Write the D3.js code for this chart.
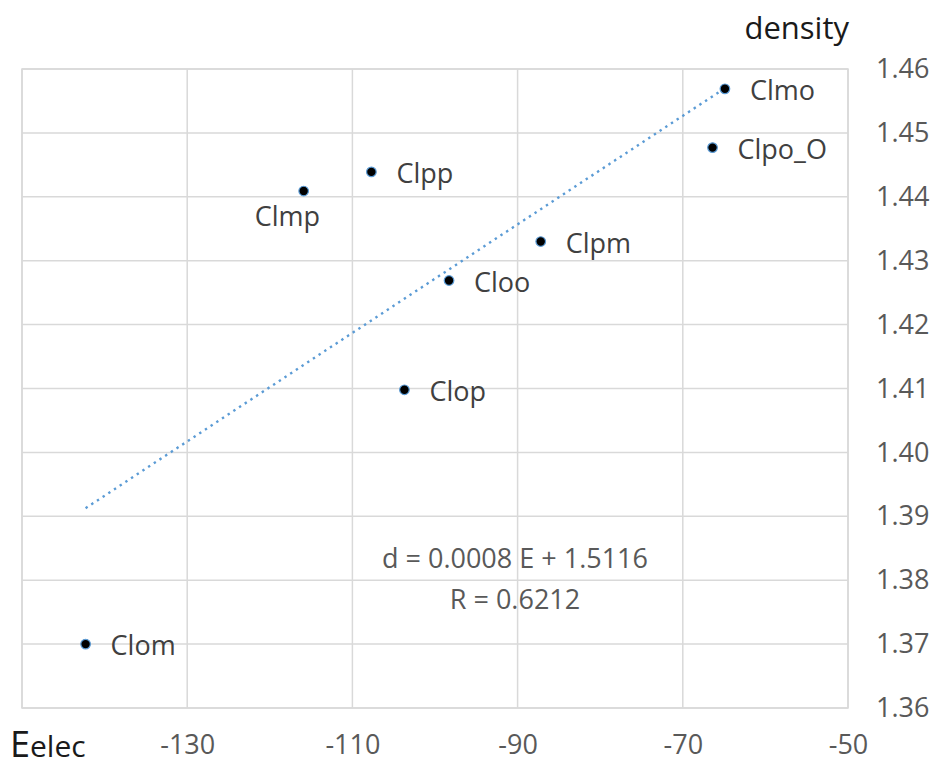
<!DOCTYPE html>
<html><head><meta charset="utf-8">
<script src="https://cdn.jsdelivr.net/npm/d3@7"></script>
<style>body{margin:0;background:#fff}svg{display:block;font-family:"Open Sans",Lato,sans-serif}</style>
</head><body><svg id="c" width="938" height="767"></svg>
<script>
const names = ["Clmo","Clpo_O","Clpp","Clmp","Clpm","Cloo","Clop","Clom"];
const energy = [-64.9,-66.4,-107.7,-115.9,-87.2,-98.3,-103.7,-142.3];
const density = [1.4569,1.4477,1.4439,1.4409,1.433,1.4269,1.4098,1.37];
const xTicks = [-130,-110,-90,-70,-50];
const yTicks = [1.36,1.37,1.38,1.39,1.40,1.41,1.42,1.43,1.44,1.45,1.46];
const equationText = "d = 0.0008 E + 1.5116";
const rText = "R = 0.6212";

const svg = d3.select("#c");
const L=22,R=848,T=69,B=708;
const FS=27;
const x = d3.scaleLinear().domain([-150,-50]).range([L,R]);
const y = d3.scaleLinear().domain([1.36,1.46]).range([B,T]);

svg.append("g").selectAll("line").data(d3.range(-150,-49,20)).join("line")
  .attr("x1",d=>x(d)).attr("x2",d=>x(d)).attr("y1",T).attr("y2",B)
  .attr("stroke","#d9d9d9").attr("stroke-width",1.5);
svg.append("g").selectAll("line").data(yTicks).join("line")
  .attr("y1",d=>y(d)).attr("y2",d=>y(d)).attr("x1",L).attr("x2",R)
  .attr("stroke","#d9d9d9").attr("stroke-width",1.5);
svg.append("rect").attr("x",L).attr("y",T).attr("width",R-L).attr("height",B-T)
  .attr("fill","none").attr("stroke","#d9d9d9").attr("stroke-width",1.5);

const xAxis = d3.axisBottom(x).tickValues(xTicks).tickSize(0).tickFormat(d=>String(d));
const gx = svg.append("g").attr("transform",`translate(0,${B+24})`).call(xAxis);
gx.select(".domain").remove();
gx.selectAll("text").attr("font-size",FS).attr("fill","#595959").attr("font-family","Open Sans");

const yAxis = d3.axisRight(y).tickValues(yTicks).tickSize(0).tickFormat(d3.format(".2f"));
const gy = svg.append("g").attr("transform",`translate(${R+20},0)`).call(yAxis);
gy.select(".domain").remove();
gy.selectAll("text").attr("font-size",FS).attr("fill","#595959").attr("font-family","Open Sans").attr("x",8);

const n = energy.length;
const mx = d3.mean(energy), my = d3.mean(density);
let sxy=0,sxx=0;
for(let i=0;i<n;i++){sxy+=(energy[i]-mx)*(density[i]-my);sxx+=(energy[i]-mx)**2;}
const slope=sxy/sxx, icpt=my-slope*mx;
const [e0,e1]=d3.extent(energy);
svg.append("line").attr("x1",x(e0)).attr("y1",y(icpt+slope*e0))
  .attr("x2",x(e1)).attr("y2",y(icpt+slope*e1))
  .attr("stroke","#5b9bd5").attr("stroke-width",2.4).attr("stroke-dasharray","2.4,4.4");

const pts = names.map((nm,i)=>({nm,e:energy[i],d:density[i]}));
svg.append("g").selectAll("circle").data(pts).join("circle")
  .attr("cx",d=>x(d.e)).attr("cy",d=>y(d.d)).attr("r",4.8)
  .attr("fill","#000").attr("stroke","#5b9bd5").attr("stroke-width",1.2);

const below = {"Clmp":true};
svg.append("g").selectAll("text").data(pts).join("text")
  .attr("x",d=>below[d.nm]? x(d.e)-49 : x(d.e)+25)
  .attr("y",d=>below[d.nm]? y(d.d)+35 : y(d.d)+11)
  .attr("font-size",FS).attr("fill","#404040").text(d=>d.nm);

svg.append("text").attr("x",515).attr("y",568).attr("text-anchor","middle")
  .attr("font-size",FS).attr("fill","#595959").text(equationText);
svg.append("text").attr("x",515).attr("y",609).attr("text-anchor","middle")
  .attr("font-size",FS).attr("fill","#595959").text(rText);

svg.append("text").attr("x",849).attr("y",39).attr("text-anchor","end")
  .attr("font-size",31).attr("fill","#1a1a1a").text("density");
const t = svg.append("text").attr("x",10).attr("y",757).attr("fill","#1a1a1a");
t.append("tspan").attr("font-size",36).text("E");
t.append("tspan").attr("font-size",30).text("elec");
</script></body></html>
